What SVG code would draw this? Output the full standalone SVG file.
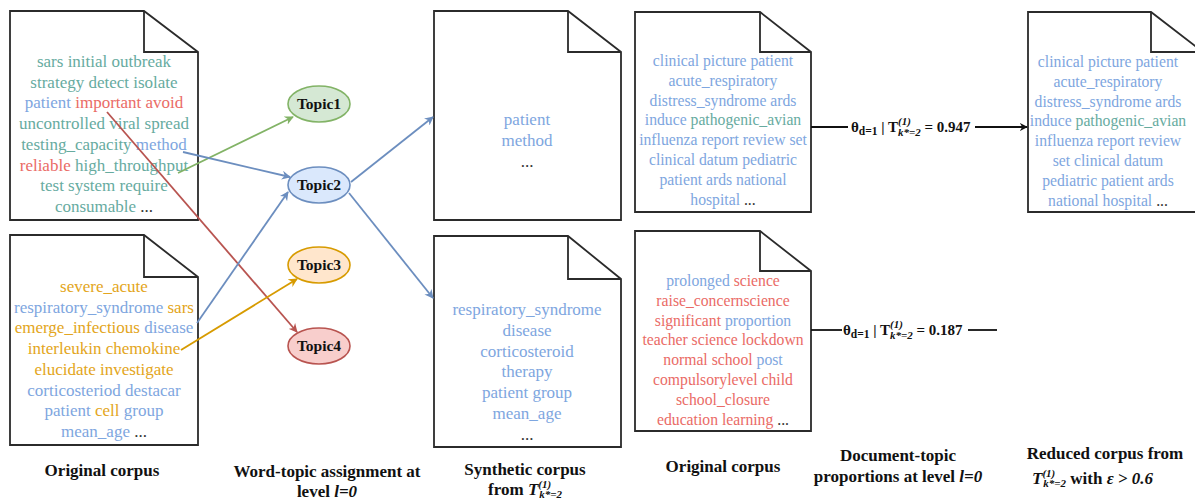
<svg xmlns="http://www.w3.org/2000/svg" width="1195" height="502" viewBox="0 0 1195 502">
  <style>
    text { font-family: "Liberation Serif", Tinos, "Times New Roman", "Nimbus Roman", "DejaVu Serif", serif; }
    .doc { fill: #ffffff; stroke: #2b2b2b; stroke-width: 1.8; stroke-linejoin: miter; }
    .fold { fill: none; stroke: #2b2b2b; stroke-width: 1.8; }
    .w { text-anchor: middle; }
    .big { font-size: 17px; }
    .mid { font-size: 15.7px; }
    .g { fill: #67AB9F; }
    .b { fill: #7EA6E0; }
    .r { fill: #EA6B66; }
    .o { fill: #E3A520; }
    .k { fill: #333333; }
    .cap { font-weight: bold; font-size: 17px; fill: #111; text-anchor: middle; }
    .capl { font-weight: bold; font-size: 17px; fill: #111; text-anchor: start; }
    .topic text { font-weight: bold; font-size: 15.5px; fill: #111; text-anchor: middle; }
    .edge { fill: none; stroke-width: 1.8; }
    .theta { font-weight: bold; font-size: 15px; fill: #111; }
  </style>
  <defs>
    <marker id="arrG" viewBox="0 0 10 10" refX="9" refY="5" markerWidth="9" markerHeight="9" markerUnits="userSpaceOnUse" orient="auto">
      <path d="M0,0 L10,5 L0,10 L3,5 Z" fill="#82b366"/>
    </marker>
    <marker id="arrB" viewBox="0 0 10 10" refX="9" refY="5" markerWidth="9" markerHeight="9" markerUnits="userSpaceOnUse" orient="auto">
      <path d="M0,0 L10,5 L0,10 L3,5 Z" fill="#6c8ebf"/>
    </marker>
    <marker id="arrO" viewBox="0 0 10 10" refX="9" refY="5" markerWidth="9" markerHeight="9" markerUnits="userSpaceOnUse" orient="auto">
      <path d="M0,0 L10,5 L0,10 L3,5 Z" fill="#d79b00"/>
    </marker>
    <marker id="arrR" viewBox="0 0 10 10" refX="9" refY="5" markerWidth="9" markerHeight="9" markerUnits="userSpaceOnUse" orient="auto">
      <path d="M0,0 L10,5 L0,10 L3,5 Z" fill="#b85450"/>
    </marker>
    <marker id="arrK" viewBox="0 0 10 10" refX="9" refY="5" markerWidth="8" markerHeight="8" markerUnits="userSpaceOnUse" orient="auto">
      <path d="M0,0 L10,5 L0,10 L3,5 Z" fill="#111"/>
    </marker>
  </defs>

  <!-- original corpus, document 1 -->
  <g id="doc-orig-1">
    <path class="doc" d="M10,11 H144 L198,52 V220 H10 Z"/>
    <path class="fold" d="M144,11 V52 H198"/>
    <text class="w big" x="104" y="67"><tspan class="g">sars initial outbreak</tspan></text>
    <text class="w big" x="104" y="87.7"><tspan class="g">strategy detect isolate</tspan></text>
    <text class="w big" x="104" y="108.4"><tspan class="b">patient</tspan><tspan class="r"> important avoid</tspan></text>
    <text class="w big" x="104" y="129.1"><tspan class="g">uncontrolled viral spread</tspan></text>
    <text class="w big" x="104" y="149.8"><tspan class="g">testing_capacity</tspan><tspan class="b"> method</tspan></text>
    <text class="w big" x="104" y="170.5"><tspan class="r">reliable</tspan><tspan class="g"> high_throughput</tspan></text>
    <text class="w big" x="104" y="191.2"><tspan class="g">test system require</tspan></text>
    <text class="w big" x="104" y="211.9"><tspan class="g">consumable</tspan><tspan class="k"> ...</tspan></text>
  </g>

  <!-- original corpus, document 2 -->
  <g id="doc-orig-2">
    <path class="doc" d="M10,235 H144 L198,277 V445 H10 Z"/>
    <path class="fold" d="M144,235 V277 H198"/>
    <text class="w big" x="104" y="292"><tspan class="o">severe_acute</tspan></text>
    <text class="w big" x="104" y="312.7"><tspan class="b">respiratory_syndrome</tspan><tspan class="o"> sars</tspan></text>
    <text class="w big" x="104" y="333.4"><tspan class="o">emerge_infectious</tspan><tspan class="b"> disease</tspan></text>
    <text class="w big" x="104" y="354.1"><tspan class="o">interleukin chemokine</tspan></text>
    <text class="w big" x="104" y="374.8"><tspan class="o">elucidate investigate</tspan></text>
    <text class="w big" x="104" y="395.5"><tspan class="b">corticosteriod destacar</tspan></text>
    <text class="w big" x="104" y="416.2"><tspan class="b">patient</tspan><tspan class="o"> cell</tspan><tspan class="b"> group</tspan></text>
    <text class="w big" x="104" y="436.9"><tspan class="b">mean_age</tspan><tspan class="k"> ...</tspan></text>
  </g>

  <!-- topics -->
  <g id="topic1" class="topic">
    <ellipse cx="319" cy="104" rx="31" ry="18" fill="#d5e8d4" stroke="#82b366" stroke-width="1.6"/>
    <text x="319" y="109">Topic1</text>
  </g>
  <g id="topic2" class="topic">
    <ellipse cx="319" cy="185" rx="31" ry="18" fill="#dae8fc" stroke="#6c8ebf" stroke-width="1.6"/>
    <text x="319" y="190">Topic2</text>
  </g>
  <g id="topic3" class="topic">
    <ellipse cx="319" cy="265" rx="31" ry="18" fill="#ffe6cc" stroke="#d79b00" stroke-width="1.6"/>
    <text x="319" y="270">Topic3</text>
  </g>
  <g id="topic4" class="topic">
    <ellipse cx="319" cy="346" rx="31" ry="18" fill="#f8cecc" stroke="#b85450" stroke-width="1.6"/>
    <text x="319" y="351">Topic4</text>
  </g>

  <!-- synthetic corpus documents -->
  <g id="doc-synth-1">
    <path class="doc" d="M434,11 H568 L621,52 V220 H434 Z"/>
    <path class="fold" d="M568,11 V52 H621"/>
    <text class="w big b" x="527" y="125">patient</text>
    <text class="w big b" x="527" y="146">method</text>
    <text class="w big k" x="527" y="167">...</text>
  </g>
  <g id="doc-synth-2">
    <path class="doc" d="M434,236 H568 L621,279 V447 H434 Z"/>
    <path class="fold" d="M568,236 V279 H621"/>
    <text class="w big b" x="527" y="315">respiratory_syndrome</text>
    <text class="w big b" x="527" y="335.8">disease</text>
    <text class="w big b" x="527" y="356.6">corticosteroid</text>
    <text class="w big b" x="527" y="377.4">therapy</text>
    <text class="w big b" x="527" y="398.2">patient group</text>
    <text class="w big b" x="527" y="419">mean_age</text>
    <text class="w big k" x="527" y="439.8">...</text>
  </g>

  <!-- original corpus, right column -->
  <g id="doc-orig-3">
    <path class="doc" d="M635,12 H760 L811,52 V212 H635 Z"/>
    <path class="fold" d="M760,12 V52 H811"/>
    <text class="w mid" x="723" y="66"><tspan class="b">clinical picture patient</tspan></text>
    <text class="w mid" x="723" y="85.8"><tspan class="b">acute_respiratory</tspan></text>
    <text class="w mid" x="723" y="105.6"><tspan class="b">distress_syndrome ards</tspan></text>
    <text class="w mid" x="723" y="125.4"><tspan class="b">induce</tspan><tspan class="g"> pathogenic_avian</tspan></text>
    <text class="w mid" x="723" y="145.2"><tspan class="b">influenza report review set</tspan></text>
    <text class="w mid" x="723" y="165"><tspan class="b">clinical datum pediatric</tspan></text>
    <text class="w mid" x="723" y="184.8"><tspan class="b">patient ards national</tspan></text>
    <text class="w mid" x="723" y="204.6"><tspan class="b">hospital</tspan><tspan class="k"> ...</tspan></text>
  </g>
  <g id="doc-orig-4">
    <path class="doc" d="M635,231 H760 L811,271 V431 H635 Z"/>
    <path class="fold" d="M760,231 V271 H811"/>
    <text class="w mid" x="723" y="286"><tspan class="b">prolonged</tspan><tspan class="r"> science</tspan></text>
    <text class="w mid" x="723" y="305.8"><tspan class="r">raise_concernscience</tspan></text>
    <text class="w mid" x="723" y="325.6"><tspan class="r">significant</tspan><tspan class="b"> proportion</tspan></text>
    <text class="w mid" x="723" y="345.4"><tspan class="r">teacher science lockdown</tspan></text>
    <text class="w mid" x="723" y="365.2"><tspan class="r">normal school</tspan><tspan class="b"> post</tspan></text>
    <text class="w mid" x="723" y="385"><tspan class="r">compulsorylevel child</tspan></text>
    <text class="w mid" x="723" y="404.8"><tspan class="r">school_closure</tspan></text>
    <text class="w mid" x="723" y="424.6"><tspan class="r">education learning</tspan><tspan class="k"> ...</tspan></text>
  </g>

  <!-- reduced corpus -->
  <g id="doc-reduced">
    <path class="doc" d="M1028,12 H1151 L1203,52 V212 H1028 Z"/>
    <path class="fold" d="M1151,12 V52 H1203"/>
    <text class="w mid" x="1108" y="67"><tspan class="b">clinical picture patient</tspan></text>
    <text class="w mid" x="1108" y="86.8"><tspan class="b">acute_respiratory</tspan></text>
    <text class="w mid" x="1108" y="106.6"><tspan class="b">distress_syndrome ards</tspan></text>
    <text class="w mid" x="1108" y="126.4"><tspan class="b">induce</tspan><tspan class="g"> pathogenic_avian</tspan></text>
    <text class="w mid" x="1108" y="146.2"><tspan class="b">influenza report review</tspan></text>
    <text class="w mid" x="1108" y="166"><tspan class="b">set clinical datum</tspan></text>
    <text class="w mid" x="1108" y="185.8"><tspan class="b">pediatric patient ards</tspan></text>
    <text class="w mid" x="1108" y="205.6"><tspan class="b">national hospital</tspan><tspan class="k"> ...</tspan></text>
  </g>

  <!-- connectors -->
  <g id="connectors">
    <line class="edge" x1="178" y1="173" x2="293" y2="117" stroke="#82b366" marker-end="url(#arrG)"/>
    <line class="edge" x1="183" y1="152" x2="290" y2="177" stroke="#6c8ebf" marker-end="url(#arrB)"/>
    <line class="edge" x1="107" y1="112" x2="297" y2="332" stroke="#b85450" marker-end="url(#arrR)"/>
    <line class="edge" x1="197" y1="323" x2="288" y2="192" stroke="#6c8ebf" marker-end="url(#arrB)"/>
    <line class="edge" x1="181" y1="350" x2="297" y2="279" stroke="#d79b00" marker-end="url(#arrO)"/>
    <line class="edge" x1="351" y1="182" x2="433" y2="117" stroke="#6c8ebf" marker-end="url(#arrB)"/>
    <line class="edge" x1="349" y1="193" x2="433" y2="298" stroke="#6c8ebf" marker-end="url(#arrB)"/>
    <line x1="811" y1="127" x2="848" y2="127" stroke="#111" stroke-width="1.8"/>
    <line x1="975" y1="127" x2="1027" y2="127" stroke="#111" stroke-width="1.8" marker-end="url(#arrK)"/>
    <line x1="811" y1="330" x2="842" y2="330" stroke="#111" stroke-width="1.8"/>
    <line x1="968" y1="330" x2="997" y2="330" stroke="#111" stroke-width="1.8"/>
  </g>

  <!-- proportion labels -->
  <text class="theta" x="851" y="132">θ<tspan font-size="11.5" dy="3">d=1</tspan><tspan dy="-3"> | T</tspan><tspan font-style="italic" font-size="11" dy="-7">(1)</tspan><tspan font-style="italic" font-size="11" dx="-13" dy="11">k*=2</tspan><tspan dy="-4"> = 0.947</tspan></text>
  <text class="theta" x="843" y="335">θ<tspan font-size="11.5" dy="3">d=1</tspan><tspan dy="-3"> | T</tspan><tspan font-style="italic" font-size="11" dy="-7">(1)</tspan><tspan font-style="italic" font-size="11" dx="-13" dy="11">k*=2</tspan><tspan dy="-4"> = 0.187</tspan></text>

  <!-- captions -->
  <text class="cap" x="102" y="476">Original corpus</text>
  <text class="cap" x="327" y="477">Word-topic assignment at</text>
  <text class="cap" x="327" y="497">level <tspan font-style="italic">l=0</tspan></text>
  <text class="cap" x="525" y="475">Synthetic corpus</text>
  <text class="cap" x="525" y="495">from <tspan font-style="italic">T</tspan><tspan font-style="italic" font-size="11" dy="-7">(1)</tspan><tspan font-style="italic" font-size="11" dx="-12" dy="10">k*=2</tspan></text>
  <text class="cap" x="723" y="472">Original corpus</text>
  <text class="cap" x="898" y="461">Document-topic</text>
  <text class="cap" x="898" y="482">proportions at level <tspan font-style="italic">l=0</tspan></text>
  <text class="cap" x="1105" y="459">Reduced corpus from</text>
  <text class="capl" x="1032" y="484"><tspan font-style="italic">T</tspan><tspan font-style="italic" font-size="11" dy="-7">(1)</tspan><tspan font-style="italic" font-size="11" dx="-12" dy="10">k*=2</tspan><tspan dy="-3"> with </tspan><tspan font-style="italic">ε &gt; 0.6</tspan></text>
</svg>
